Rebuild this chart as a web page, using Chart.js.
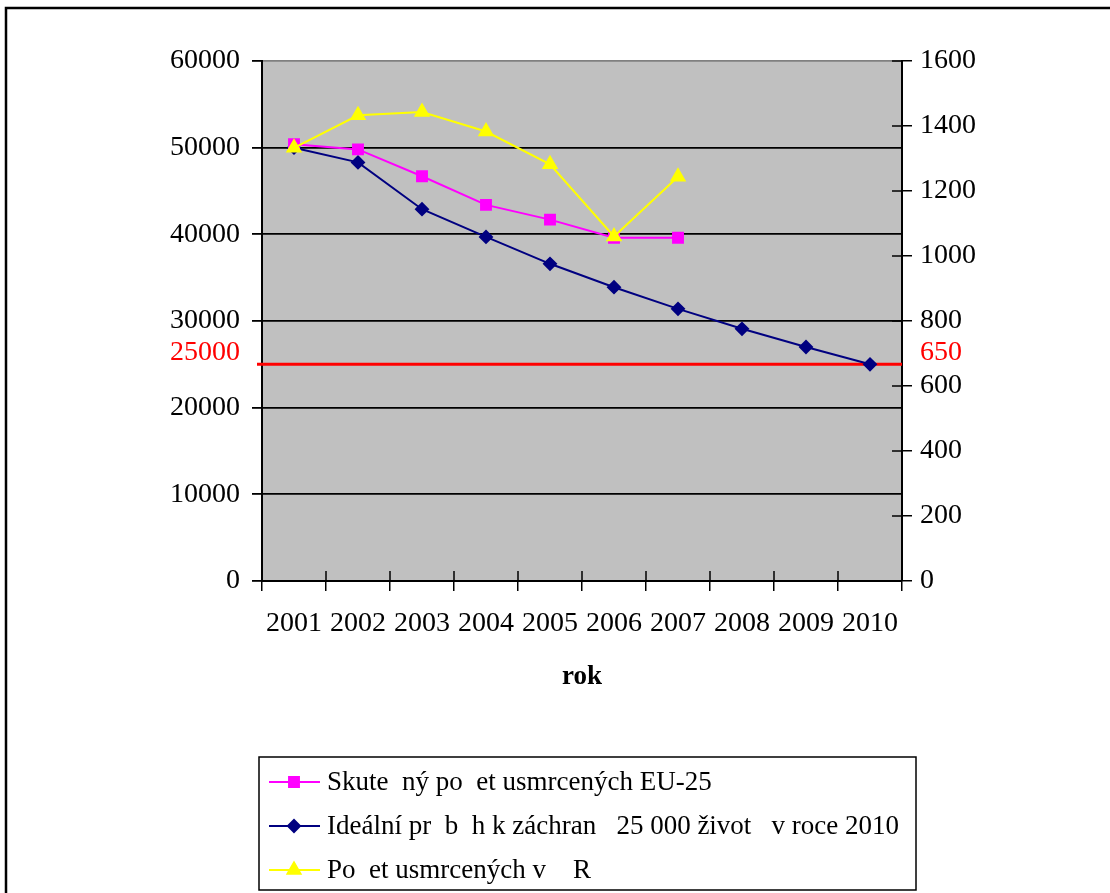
<!DOCTYPE html>
<html>
<head>
<meta charset="utf-8">
<script src="https://cdn.jsdelivr.net/npm/chart.js@4.4.1/dist/chart.umd.min.js"></script>
<style>
  html, body { margin: 0; padding: 0; background: #fff; }
  #wrap { width: 1110px; height: 893px; position: relative; }
</style>
</head>
<body>
<div id="wrap"><canvas id="roadChart"></canvas></div>
<script>
const years = ['2001', '2002', '2003', '2004', '2005', '2006', '2007', '2008', '2009', '2010'];
const euKilled = [50400, 49800, 46700, 43400, 41700, 39600, 39600, null, null, null];
const idealPath = [50000, 48300, 42900, 39700, 36600, 33900, 31400, 29100, 27000, 25000];
const czKilled = [1333, 1433, 1443, 1383, 1282, 1060, 1244, null, null, null];
const leftTicks = [0, 10000, 20000, 30000, 40000, 50000, 60000];
const rightTicks = [0, 200, 400, 600, 800, 1000, 1200, 1400, 1600];
const targetLeft = 25000;
const targetRight = 650;

const labels = [
  'Skute  ný po  et usmrcených EU-25',
  'Ideální pr  b  h k záchran   25 000 život   v roce 2010',
  'Po  et usmrcených v    R'
];

const FONT = '"Liberation Serif", "Times New Roman", serif';

const chartCanvas = document.getElementById('roadChart');

// background, outer frame, plot fill and the red target line
const decorPlugin = {
  id: 'decor',
  beforeDraw(chart) {
    const ctx = chart.ctx;
    const area = chart.chartArea;
    ctx.save();
    ctx.fillStyle = '#fff';
    ctx.fillRect(0, 0, chart.width, chart.height);
    ctx.strokeStyle = '#000';
    ctx.lineWidth = 2.5;
    ctx.beginPath();
    ctx.moveTo(6, chart.height);
    ctx.lineTo(6, 8);
    ctx.lineTo(chart.width, 8);
    ctx.stroke();
    ctx.fillStyle = '#c0c0c0';
    ctx.fillRect(area.left, area.top, area.right - area.left, area.bottom - area.top);
    ctx.restore();
  },
  beforeDatasetsDraw(chart) {
    const ctx = chart.ctx;
    const area = chart.chartArea;
    const y = chart.scales.y.getPixelForValue(targetLeft);
    ctx.save();
    ctx.strokeStyle = '#ff0000';
    ctx.lineWidth = 3;
    ctx.beginPath();
    ctx.moveTo(area.left - 5, y);
    ctx.lineTo(area.right, y);
    ctx.stroke();
    ctx.fillStyle = '#ff0000';
    ctx.font = '28px ' + FONT;
    ctx.textBaseline = 'middle';
    ctx.textAlign = 'right';
    ctx.fillText(String(targetLeft), area.left - 22, y - 12);
    ctx.textAlign = 'left';
    ctx.fillText(String(targetRight), area.right + 18, y - 12);
    ctx.restore();
  },
  afterDraw(chart) {
    const ctx = chart.ctx;
    const area = chart.chartArea;
    const x = chart.scales.x;
    const y1 = chart.scales.y1;
    ctx.save();
    ctx.strokeStyle = '#000';
    ctx.lineWidth = 1.5;
    ctx.beginPath();
    // inner half of the crossing tick marks
    for (let i = 0; i <= years.length; i++) {
      const px = x.getPixelForValue(i - 0.5);
      ctx.moveTo(px, area.bottom);
      ctx.lineTo(px, area.bottom - 10);
    }
    y1.ticks.forEach(function (t) {
      const py = y1.getPixelForValue(t.value);
      ctx.moveTo(area.right, py);
      ctx.lineTo(area.right - 10, py);
    });
    ctx.stroke();

    // legend box
    const box = { left: 259, top: 757, width: 657, height: 133 };
    ctx.lineWidth = 1.5;
    ctx.strokeRect(box.left, box.top, box.width, box.height);
    ctx.font = '27px ' + FONT;
    ctx.textBaseline = 'middle';
    ctx.textAlign = 'left';
    chart.data.datasets.forEach(function (ds, i) {
      const rowY = box.top + 25 + i * 44;
      ctx.strokeStyle = ds.borderColor;
      ctx.lineWidth = 2;
      ctx.beginPath();
      ctx.moveTo(box.left + 10, rowY);
      ctx.lineTo(box.left + 61, rowY);
      ctx.stroke();
      ctx.fillStyle = ds.pointBackgroundColor;
      ctx.strokeStyle = ds.pointBorderColor;
      Chart.helpers.drawPoint(ctx, {
        pointStyle: ds.pointStyle,
        radius: ds.pointRadius,
        rotation: 0,
        borderWidth: 1
      }, box.left + 35, rowY);
      ctx.fillStyle = '#000';
      ctx.fillText(labels[i], box.left + 68, rowY + 1);
    });
    ctx.restore();
  }
};

function plain(value) {
  return String(value);
}

new Chart(chartCanvas, {
  type: 'line',
  data: {
    labels: years,
    datasets: [
      {
        label: labels[0],
        data: euKilled,
        yAxisID: 'y',
        borderColor: '#ff00ff',
        borderWidth: 2,
        pointStyle: 'rect',
        pointRadius: 7,
        pointBackgroundColor: '#ff00ff',
        pointBorderColor: '#ff00ff',
        tension: 0,
        order: 2
      },
      {
        label: labels[1],
        data: idealPath,
        yAxisID: 'y',
        borderColor: '#000080',
        borderWidth: 2,
        pointStyle: 'rectRot',
        pointRadius: 6,
        pointBackgroundColor: '#000080',
        pointBorderColor: '#000080',
        tension: 0,
        order: 3
      },
      {
        label: labels[2],
        data: czKilled,
        yAxisID: 'y1',
        borderColor: '#ffff00',
        borderWidth: 2,
        pointStyle: 'triangle',
        pointRadius: 7.5,
        pointBackgroundColor: '#ffff00',
        pointBorderColor: '#ffff00',
        tension: 0,
        order: 1
      }
    ]
  },
  options: {
    responsive: true,
    maintainAspectRatio: false,
    animation: false,
    layout: { padding: { top: 61, left: 0, right: 0, bottom: 0 } },
    plugins: {
      legend: { display: false },
      tooltip: { enabled: false }
    },
    scales: {
      x: {
        type: 'category',
        offset: true,
        afterFit: function (scale) { scale.height = 312; },
        border: { color: '#000', width: 2 },
        grid: { offset: true, drawOnChartArea: false, tickLength: 10, color: '#000', tickColor: '#000', lineWidth: 1.5 },
        ticks: { color: '#000', font: { family: FONT, size: 28 }, padding: 16, autoSkip: false, maxRotation: 0 },
        title: {
          display: true,
          text: 'rok',
          color: '#000',
          font: { family: FONT, size: 27, weight: 'bold' },
          padding: { top: 0, bottom: 200 }
        }
      },
      y: {
        position: 'left',
        min: leftTicks[0],
        max: leftTicks[leftTicks.length - 1],
        afterFit: function (scale) { scale.width = 262; },
        afterBuildTicks: function (scale) { scale.ticks = leftTicks.map(function (v) { return { value: v }; }); },
        border: { color: '#000', width: 2 },
        grid: {
          color: function (c) { return c.tick && c.tick.value === 60000 ? '#808080' : '#000'; },
          tickColor: '#000',
          lineWidth: 1.8,
          tickLength: 10
        },
        ticks: { color: '#000', font: { family: FONT, size: 28 }, padding: 12, callback: plain }
      },
      y1: {
        position: 'right',
        min: rightTicks[0],
        max: rightTicks[rightTicks.length - 1],
        afterFit: function (scale) { scale.width = 208; },
        afterBuildTicks: function (scale) { scale.ticks = rightTicks.map(function (v) { return { value: v }; }); },
        border: { color: '#000', width: 2 },
        grid: { drawOnChartArea: false, tickLength: 10, color: '#000', tickColor: '#000', lineWidth: 1.5 },
        ticks: { color: '#000', font: { family: FONT, size: 28 }, padding: 8, callback: plain }
      }
    }
  },
  plugins: [decorPlugin]
});
</script>
</body>
</html>
